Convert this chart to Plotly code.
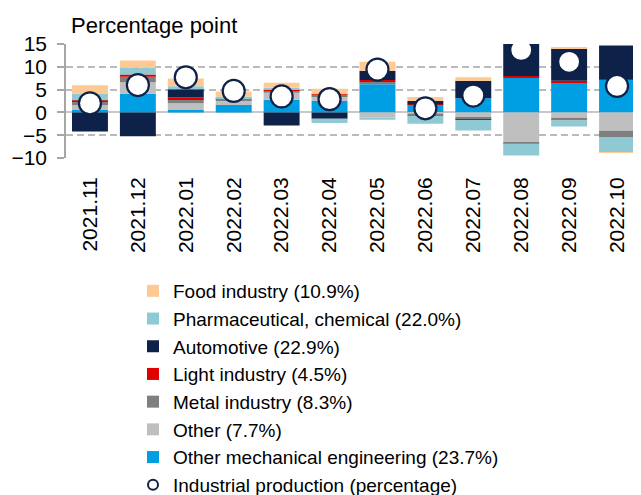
import plotly.graph_objects as go

months = ["2021.11", "2021.12", "2022.01", "2022.02", "2022.03", "2022.04",
          "2022.05", "2022.06", "2022.07", "2022.08", "2022.09", "2022.10"]

mech   = [0.5, 4.1, 0.5, 1.6, 2.8, 2.5, 6.2, 1.7, 3.1, 7.7, 6.6, 7.15]
other  = [1.1, 2.5, 1.5, 1.0, 1.5, 1.0, -1.1, -0.3, -1.1, -6.6, -1.2, -4.0]
metal  = [0.7, 1.2, 0.7, 0.4, 0.5, 0.4, 0.6, -0.5, -0.4, -0.3, -0.6, -1.4]
light  = [0.35, 0.5, 0.6, 0.15, 0.1, 0.1, 0.3, 0.1, -0.15, 0.3, 0.35, 0.2]
auto   = [-4.2, -5.25, 1.75, 0.0, -2.9, -1.4, 2.0, 0.7, 3.8, 15.2, 7.1, 7.3]
pharma = [1.5, 1.5, 0.7, 0.35, 0.5, -0.9, -0.5, -1.7, -2.3, -2.55, -1.3, -3.3]
food   = [1.8, 1.6, 1.7, 1.1, 1.1, 1.2, 2.0, 0.9, 0.8, 0.0, 0.1, -0.15]
ip     = [2.0, 6.0, 7.7, 4.7, 3.5, 2.9, 9.4, 0.9, 3.7, 13.7, 11.1, 5.8]

series = [
    ("Other mechanical engineering (23.7%)", mech, "#009FE3", 7),
    ("Other (7.7%)", other, "#BFBFBF", 6),
    ("Metal industry (8.3%)", metal, "#7F7F7F", 5),
    ("Light industry (4.5%)", light, "#E00000", 4),
    ("Automotive (22.9%)", auto, "#0E2148", 3),
    ("Pharmaceutical, chemical (22.0%)", pharma, "#8FC9D3", 2),
    ("Food industry (10.9%)", food, "#FFC993", 1),
]

fig = go.Figure()
for name, vals, col, rank in series:
    fig.add_trace(go.Bar(x=months, y=vals, name=name, marker_color=col,
                         marker_line_width=0, legendrank=rank, legendgroup=name))

fig.add_trace(go.Scatter(x=months, y=ip, mode="markers", showlegend=False,
                         marker=dict(size=22, color="white",
                                     line=dict(color="#0E2148", width=2.2))))
fig.add_trace(go.Scatter(x=[None], y=[None], mode="markers",
                         name="Industrial production (percentage)",
                         legendrank=8, legendgroup="ip",
                         marker=dict(size=10, color="white",
                                     line=dict(color="#0E2148", width=2))))

W, H = 633, 487  # page body has an 8px default margin
fig.update_layout(
    width=W, height=H,
    barmode="relative", bargap=0.25,
    plot_bgcolor="white", paper_bgcolor="white",
    margin=dict(l=58, r=0, t=36, b=337, autoexpand=False),
    font=dict(family="Liberation Sans, Arial, sans-serif", color="black", size=19),
    xaxis=dict(type="category", range=[-0.5, 11.5], tickangle=-90,
               showgrid=False, showline=False, ticks="",
               tickfont=dict(size=21), ticklabelstandoff=14),
    yaxis=dict(range=[-10, 15], tickvals=[-10, -5, 0, 5, 10, 15],
               tickfont=dict(size=21), showgrid=True, gridcolor="#BBBBBB",
               griddash="7px,4px", gridwidth=1.6, zeroline=True,
               zerolinecolor="#C8C8C8", zerolinewidth=1.6,
               showline=True, linecolor="#A6A6A6", linewidth=1.6,
               ticks="outside", ticklen=7, tickcolor="#A6A6A6", tickwidth=1.5,
               ticklabelstandoff=6),
    legend=dict(xref="container", yref="container", x=125 / W, y=1 - 264 / H,
                xanchor="left", yanchor="top", font=dict(size=19),
                bgcolor="rgba(0,0,0,0)", itemwidth=30, tracegroupgap=0),
    annotations=[dict(text="Percentage point", xref="paper", yref="paper",
                      x=0, y=1, xshift=3, yshift=4, xanchor="left",
                      yanchor="bottom", showarrow=False, font=dict(size=22))],
)

fig.write_html("out.html")
